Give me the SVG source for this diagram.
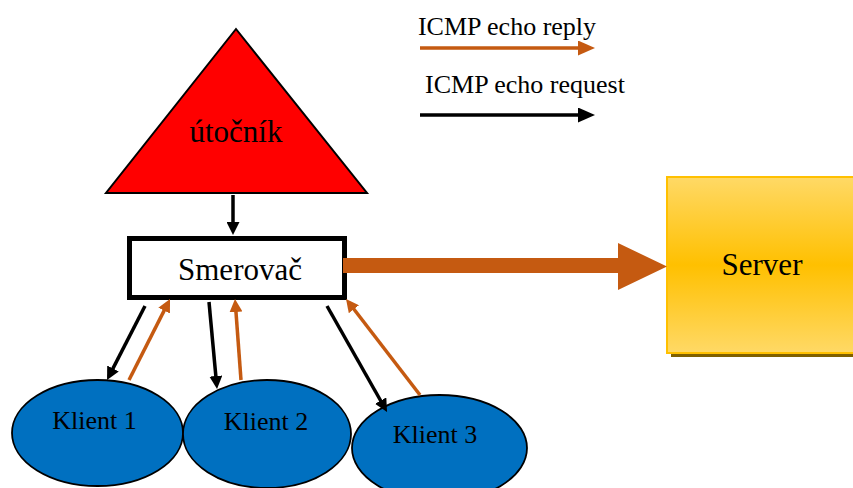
<svg xmlns="http://www.w3.org/2000/svg" width="853" height="488" viewBox="0 0 853 488">
  <style>
    .t { font-family: "Liberation Serif", "Times New Roman", serif; fill: #000; text-anchor: middle; }
    .blk { stroke: #000; stroke-width: 3.5; fill: none; }
    .org { stroke: #C55A11; stroke-width: 3.5; fill: none; }
    .client { fill: #0070C0; stroke: #000; stroke-width: 1.8; }
  </style>
  <defs>
    <marker id="hb" markerUnits="userSpaceOnUse" markerWidth="13" markerHeight="13" refX="5" refY="6.5" orient="auto">
      <path d="M0,0 L13,6.5 L0,13 z" fill="#000"/>
    </marker>
    <marker id="ho" markerUnits="userSpaceOnUse" markerWidth="13" markerHeight="13" refX="5" refY="6.5" orient="auto">
      <path d="M0,0 L13,6.5 L0,13 z" fill="#C55A11"/>
    </marker>
    <marker id="lb" markerUnits="userSpaceOnUse" markerWidth="17" markerHeight="15" refX="2" refY="7.5" orient="auto">
      <path d="M0,0 L17,7.5 L0,15 z" fill="#000"/>
    </marker>
    <marker id="lo" markerUnits="userSpaceOnUse" markerWidth="17" markerHeight="15" refX="2" refY="7.5" orient="auto">
      <path d="M0,0 L17,7.5 L0,15 z" fill="#C55A11"/>
    </marker>
    <linearGradient id="sg" x1="0" y1="0" x2="0" y2="1">
      <stop offset="0" stop-color="#FFD966"/>
      <stop offset="0.5" stop-color="#FFC000"/>
      <stop offset="1" stop-color="#FFD966"/>
    </linearGradient>
  </defs>

  <!-- legend -->
  <g id="legend">
    <text class="t" x="507" y="35" font-size="26">ICMP echo reply</text>
    <line class="org" x1="420" y1="48" x2="580" y2="48" stroke-width="4" marker-end="url(#lo)"/>
    <text class="t" x="525" y="93" font-size="26">ICMP echo request</text>
    <line class="blk" x1="420" y1="115" x2="580" y2="115" stroke-width="4" marker-end="url(#lb)"/>
  </g>

  <g id="attacker">
    <polygon points="236,29 367,193 106,193" fill="#FF0000" stroke="#000" stroke-width="2"/>
    <text class="t" x="236" y="142" font-size="31">útočník</text>
  </g>

  <g id="router">
    <rect x="129.5" y="238.5" width="215" height="59" fill="#fff" stroke="#000" stroke-width="5"/>
    <text class="t" x="240" y="280" font-size="31">Smerovač</text>
  </g>

  <g id="server">
    <rect x="671" y="181" width="192" height="176" fill="#7F6000"/>
    <rect x="667" y="177" width="192" height="176" fill="url(#sg)" stroke="#FFC000" stroke-width="2"/>
    <text class="t" x="762" y="275" font-size="31">Server</text>
  </g>

  <g id="klient1">
    <ellipse class="client" cx="97.5" cy="433" rx="85.5" ry="53"/>
    <text class="t" x="94.5" y="429" font-size="26">Klient 1</text>
  </g>
  <g id="klient2">
    <ellipse class="client" cx="267" cy="434" rx="84" ry="54"/>
    <text class="t" x="266" y="430" font-size="26">Klient 2</text>
  </g>
  <g id="klient3">
    <ellipse class="client" cx="439.5" cy="448" rx="87.5" ry="53"/>
    <text class="t" x="435" y="443" font-size="26">Klient 3</text>
  </g>

  <g id="connectors">
    <line class="blk" x1="233" y1="195" x2="233" y2="227" marker-end="url(#hb)"/>
    <polygon points="343,258 618,258 618,243 667,266.5 618,290 618,273 343,273" fill="#C55A11"/>
    <line class="blk" x1="145" y1="306" x2="110.7" y2="372.9" marker-end="url(#hb)"/>
    <line class="org" x1="129" y1="380" x2="166.4" y2="306.1" marker-end="url(#ho)"/>
    <line class="blk" x1="209" y1="302" x2="216.3" y2="381" marker-end="url(#hb)"/>
    <line class="org" x1="241" y1="380" x2="235.6" y2="307" marker-end="url(#ho)"/>
    <line class="blk" x1="327" y1="306" x2="383.1" y2="405" marker-end="url(#hb)"/>
    <line class="org" x1="420" y1="395" x2="350.9" y2="305.3" marker-end="url(#ho)"/>
  </g>
</svg>
